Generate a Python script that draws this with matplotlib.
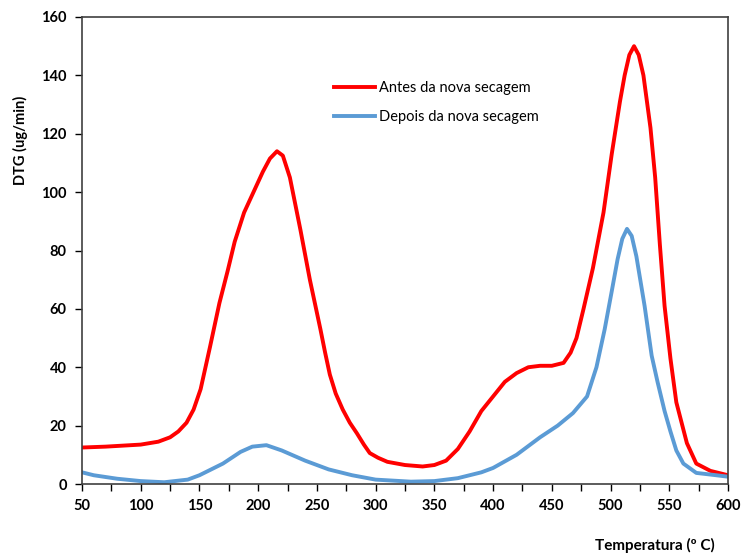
import numpy as np
import matplotlib.pyplot as plt

# Curvas DTG
temp_antes = [50, 70, 100, 115, 125, 132, 139, 145, 151, 159, 167, 174, 180, 188,
              196, 204, 210, 216, 221, 227, 236, 244, 253, 257, 261, 266, 272, 278,
              284, 290, 295, 302, 310, 325, 340, 350, 360, 370, 380, 390, 400, 410,
              420, 430, 440, 450, 460, 466, 471, 477, 485, 494, 501, 508, 512, 516,
              520, 524, 528, 534, 538, 542, 546, 551, 556, 565, 573, 585, 600]
dtg_antes = [12.5, 12.8, 13.5, 14.5, 16, 18, 21, 25.5, 32.5, 47, 62, 73, 83, 93,
             100, 107, 111.5, 114, 112.5, 105, 87, 70, 53, 45, 37.5, 31, 25.5, 21,
             17.4, 13.5, 10.6, 9, 7.6, 6.5, 6, 6.5, 8, 12, 18, 25, 30, 35,
             38, 40, 40.5, 40.5, 41.5, 45, 50, 60, 74, 93, 113, 131, 140, 147,
             150, 147, 140, 122, 105, 82, 61, 43, 28, 14, 7, 4.5, 3]

temp_depois = [50, 60, 80, 100, 120, 140, 150, 160, 170, 185, 195, 207, 220, 240,
               260, 280, 300, 330, 350, 370, 390, 400, 420, 440, 455, 468, 480, 488,
               495, 501, 506, 510, 514, 518, 522, 529, 535, 540, 546, 551, 556, 562,
               573, 590, 600]
dtg_depois = [4, 3, 1.8, 1, 0.6, 1.5, 3, 5, 7, 11, 12.8, 13.3, 11.5, 8,
              5, 3, 1.5, 0.8, 1, 2, 4, 5.5, 10, 16, 20, 24.3, 30, 40,
              53, 66, 77, 84, 87.4, 85, 78, 61, 44, 35, 25, 18, 11.5, 7,
              3.8, 3, 2.5]

plt.rcParams['font.family'] = ['Lato', 'DejaVu Sans']

fig = plt.figure(figsize=(7.43, 5.56), dpi=100)
ax = fig.add_axes([82/743, 1-484/556, 646/743, 467/556])

ax.plot(temp_antes, dtg_antes, color='#ff0000', lw=2.8, label='Antes da nova secagem')
ax.plot(temp_depois, dtg_depois, color='#5b9bd5', lw=2.8, label='Depois da nova secagem')

ax.set_xlim(50, 600)
ax.set_ylim(0, 160)
ax.set_xticks(np.arange(50, 601, 50))
ax.set_xticks(np.arange(50, 601, 25), minor=True)
ax.set_yticks(np.arange(0, 161, 20))
ax.tick_params(axis='both', direction='out', length=5, width=1, labelsize=10.5, pad=6)
ax.tick_params(axis='x', which='minor', direction='out', length=5, width=1)
for lab in ax.get_xticklabels() + ax.get_yticklabels():
    lab.set_fontweight('bold')
for s in ax.spines.values():
    s.set_color('#404040')
    s.set_linewidth(1.2)

fig.text(20/743, 1-140/556, 'DTG (ug/min)', rotation=90, ha='center', va='center',
         fontsize=10.5, fontweight='bold')
fig.text(655/743, 1-545/556, 'Temperatura (º C)', ha='center', va='center',
         fontsize=11, fontweight='bold')

ax.legend(loc='upper left', bbox_to_anchor=(0.37, 0.89), frameon=False, fontsize=10.5,
          handlelength=2.8, handletextpad=0.3, labelspacing=1.0)

fig.savefig('out.png', dpi=100)
